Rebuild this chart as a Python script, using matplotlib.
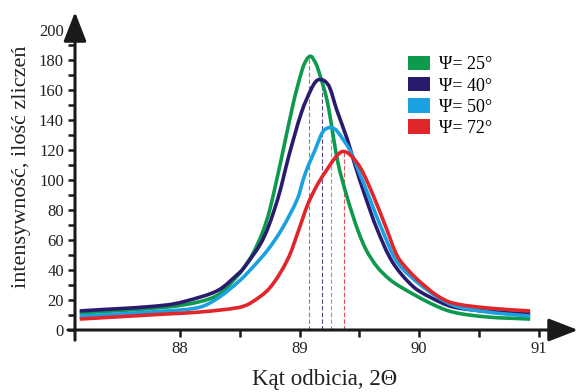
import matplotlib
matplotlib.use("Agg")
import numpy as np
import matplotlib.pyplot as plt
from matplotlib.patches import Patch, PathPatch
from matplotlib.path import Path

plt.rcParams["font.family"] = ["Liberation Serif", "DejaVu Serif"]

# ---- data ----
x_green = [87.16, 87.89, 88.17, 88.33, 88.48, 88.53, 88.61, 88.69, 88.75, 88.85, 88.95, 89.02,
           89.05, 89.09, 89.12, 89.15, 89.23, 89.32, 89.40, 89.49, 89.56, 89.65, 89.75, 89.84,
           90.09, 90.28, 90.57, 90.93]
y_green = [11.3, 15.3, 19, 24, 36, 41, 51, 65, 80, 115, 152, 173,
           179, 182.5, 180, 175, 153, 112, 88, 66, 53, 42, 34, 29,
           18, 12, 8.7, 7.3]

x_navy = [87.16, 87.89, 88.17, 88.33, 88.48, 88.53, 88.67, 88.74, 88.82, 88.86, 88.91, 89.02,
          89.10, 89.14, 89.17, 89.21, 89.25, 89.31, 89.40, 89.46, 89.55, 89.65, 89.78, 89.95,
          90.09, 90.28, 90.57, 90.93]
y_navy = [12.7, 16.7, 22, 27, 37, 41, 57, 69, 88, 100, 116, 146,
          161, 166, 167, 166, 162, 147, 127, 111, 89, 67, 45, 29,
          22, 15.5, 12.5, 10.7]

x_blue = [87.16, 87.89, 88.17, 88.33, 88.50, 88.61, 88.73, 88.85, 88.98, 89.03, 89.07, 89.13,
          89.18, 89.21, 89.25, 89.28, 89.31, 89.42, 89.51, 89.59, 89.69, 89.82, 90.03, 90.28,
          90.57, 90.93]
y_blue = [9.3, 12.7, 15.3, 22, 33, 42, 53, 67, 87, 100, 109, 120,
          130, 133.5, 135, 134.5, 133, 120, 103, 87, 67, 45, 29, 16.7,
          12, 9.3]

x_red = [87.16, 87.89, 88.17, 88.49, 88.59, 88.75, 88.90, 88.99, 89.07, 89.15, 89.23, 89.30,
         89.36, 89.42, 89.51, 89.62, 89.73, 89.82, 89.92, 90.01, 90.15, 90.28, 90.57, 90.93]
y_red = [7.3, 10.7, 12, 15, 18, 28, 47, 66, 84, 97, 107, 115,
         119, 117, 108, 89, 67, 49, 39, 32, 23, 18, 14.7, 12.7]

peak_x = [89.08, 89.19, 89.26, 89.37]
peak_y = [182.5, 167, 135, 119]
labels = ["Ψ= 25°", "Ψ= 40°", "Ψ= 50°", "Ψ= 72°"]
colors = ["#0e9a4c", "#2a1b6e", "#1ba1e2", "#e0262a"]

series = [(x_green, y_green), (x_navy, y_navy), (x_blue, y_blue), (x_red, y_red)]


def smooth_path(xs, ys, sx=119.5, sy=1.5):
    # cubic bezier through the points, tangents taken in roughly pixel units
    p = np.column_stack([np.asarray(xs) * sx, np.asarray(ys) * sy])
    n = len(p)
    tang = np.zeros_like(p)
    for i in range(n):
        a = p[max(i - 1, 0)]
        b = p[min(i + 1, n - 1)]
        d = b - a
        tang[i] = d / np.hypot(*d)
    verts = [p[0]]
    codes = [Path.MOVETO]
    for i in range(n - 1):
        L = np.hypot(*(p[i + 1] - p[i]))
        verts += [p[i] + tang[i] * L / 3, p[i + 1] - tang[i + 1] * L / 3, p[i + 1]]
        codes += [Path.CURVE4] * 3
    verts = np.array(verts) / [sx, sy]
    return Path(verts, codes)


fig = plt.figure(figsize=(5.78, 3.92), dpi=100)
ax = fig.add_axes([75 / 578, 62 / 392, 503 / 578, 318 / 392])

for (xs, ys), c in zip(series, colors):
    ax.add_patch(PathPatch(smooth_path(xs, ys), facecolor="none", edgecolor=c, lw=2.6,
                           joinstyle="round", capstyle="butt", zorder=3))

for px, py, c in zip(peak_x, peak_y, colors):
    ax.vlines(px, 0, py, colors=c, linestyles=(0, (4, 2)), lw=0.8, alpha=0.8, zorder=2)

ax.set_xlim(87.121, 91.33)
ax.set_ylim(0, 212)

for s in ax.spines.values():
    s.set_visible(False)

# axes drawn as arrows
ax.annotate("", xy=(1.0, 0), xytext=(-0.014, 0), xycoords="axes fraction",
            arrowprops=dict(arrowstyle="-|>,head_length=0.9,head_width=0.35", lw=2.2,
                            color="#1a1a1a", shrinkA=0, shrinkB=0, mutation_scale=20))
ax.annotate("", xy=(0, 1.0), xytext=(0, -0.032), xycoords="axes fraction",
            arrowprops=dict(arrowstyle="-|>,head_length=0.9,head_width=0.35", lw=2.2,
                            color="#1a1a1a", shrinkA=0, shrinkB=0, mutation_scale=20))

ax.set_yticks(range(0, 201, 20))
ax.set_yticks(range(10, 200, 20), minor=True)
ax.set_xticks([88, 89, 90, 91])
ax.set_xticks([88.5, 89.5, 90.5], minor=True)
ax.tick_params(axis="y", which="both", direction="out", length=5, width=1.8,
               color="#1a1a1a", labelsize=12, pad=3)
ax.tick_params(axis="x", which="both", direction="out", length=5, width=1.8,
               color="#1a1a1a", labelsize=12, pad=3)
for t in ax.get_xticklabels() + ax.get_yticklabels():
    t.set_color("#222222")

fig.text(325 / 578, 1 - 380 / 392, "Kąt odbicia, 2Θ", ha="center", va="center",
         fontsize=16.5, color="#222222")
fig.text(22 / 578, 1 - 167 / 392, "intensywność, ilość zliczeń", ha="center", va="center",
         rotation=90, fontsize=16, color="#222222")

handles = [Patch(facecolor=c, edgecolor="none") for c in colors]
fig.legend(handles, labels, loc="upper left", bbox_to_anchor=(408 / 578, 1 - 56 / 392),
           frameon=False, fontsize=13, handlelength=1.2, handleheight=0.85,
           labelspacing=0.2, handletextpad=0.5, borderpad=0, borderaxespad=0)

fig.savefig("out.png", dpi=100)
